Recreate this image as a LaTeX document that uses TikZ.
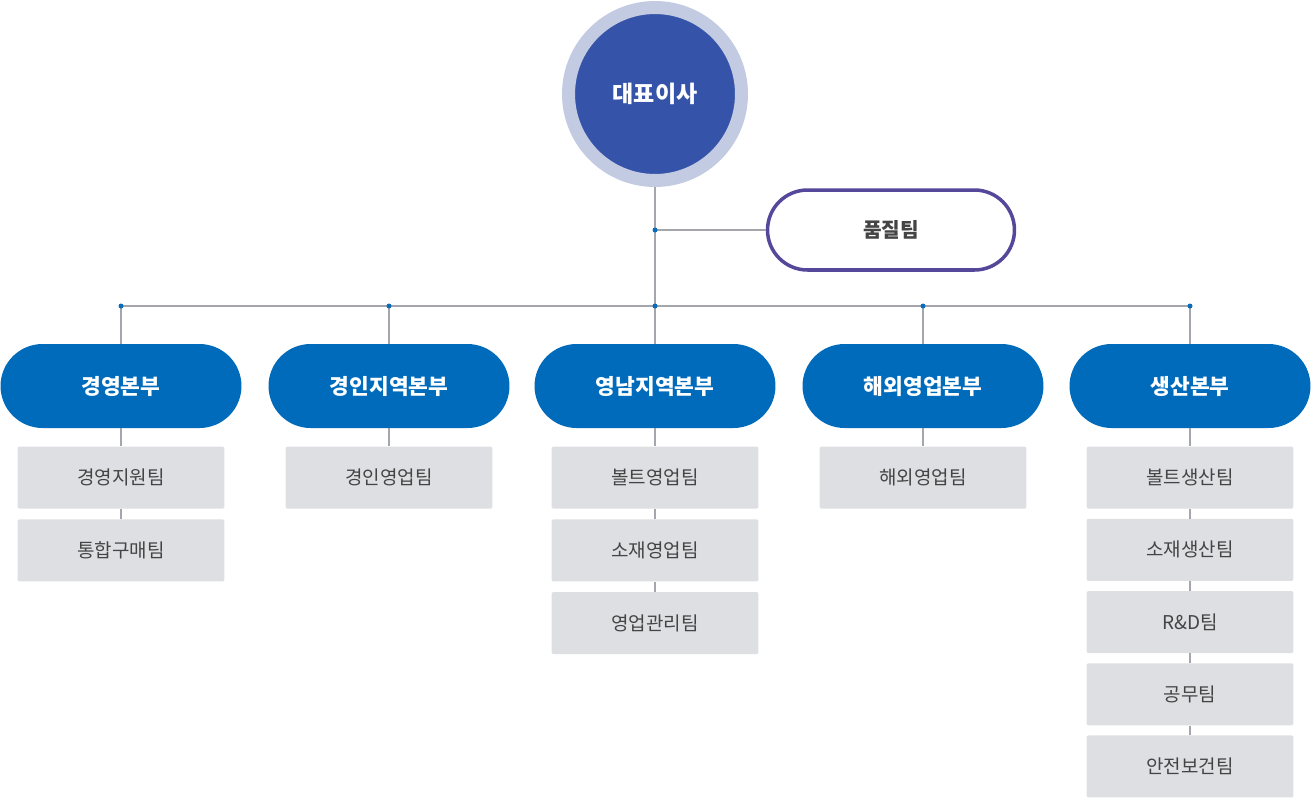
\documentclass[tikz,border=0pt]{standalone}
\usepackage{fontspec}
\setmainfont{Noto Sans CJK KR}
\definecolor{org_ceo}{RGB}{53, 83, 168}
\definecolor{org_ring}{RGB}{195, 203, 227}
\definecolor{org_blue}{RGB}{0, 107, 187}
\definecolor{org_qual}{RGB}{85, 72, 154}
\definecolor{org_team}{RGB}{222, 223, 227}
\definecolor{org_text}{RGB}{68, 68, 68}
\definecolor{org_line}{RGB}{165, 165, 173}
\definecolor{org_dot}{RGB}{10, 108, 189}
\usetikzlibrary{positioning}

\begin{document}
\begin{tikzpicture}[x=0.02cm, y=-0.02cm,
        ceo/.style={circle, fill=org_ceo, draw=org_ring, line width=0.26cm,
                    minimum size=3.46cm, inner sep=0pt, outer sep=0.13cm,
                    text=white, font=\fontsize{13.1}{15}\selectfont\bfseries},
        qual/.style={rectangle, rounded corners=0.8cm, draw=org_qual, fill=white,
                     line width=2pt, minimum width=4.94cm, minimum height=1.6cm,
                     inner sep=0pt, text=org_text,
                     font=\fontsize{11.5}{13}\selectfont\bfseries},
        division/.style={rectangle, rounded corners=0.84cm, fill=org_blue,
                         minimum width=4.82cm, minimum height=1.68cm, inner sep=0pt,
                         text=white, font=\fontsize{12.2}{14}\selectfont\bfseries},
        team/.style={rectangle, rounded corners=0.04cm, fill=org_team,
                     minimum width=4.14cm, minimum height=1.24cm, inner sep=0pt,
                     text=org_text, font=\fontsize{10.8}{12}\selectfont},
        link/.style={draw=org_line, line width=0.6pt},
        joint/.style={circle, fill=org_dot, inner sep=0pt, minimum size=0.1cm},
      ]
        \useasboundingbox (0, 0) rectangle (1312, 809);

        % top of the chart
        \node[ceo] (ceo) at (655, 94) {대표이사};
        \node[qual] (qual) at (891, 230) {품질팀};

        \coordinate (qjoint) at (655, 230);
        \coordinate (bus1) at (121, 306);
        \coordinate (bus2) at (389, 306);
        \coordinate (bus3) at (655, 306);
        \coordinate (bus4) at (923, 306);
        \coordinate (bus5) at (1190, 306);

        % divisions
        \node[division] (div1) at (121, 386) {경영본부};
        \node[division] (div2) at (389, 386) {경인지역본부};
        \node[division] (div3) at (655, 386) {영남지역본부};
        \node[division] (div4) at (923, 386) {해외영업본부};
        \node[division] (div5) at (1190, 386) {생산본부};

        % teams
        \node[team, below=0.36cm of div1] (t11) {경영지원팀};
        \node[team, below=0.2cm of t11] (t12) {통합구매팀};

        \node[team, below=0.36cm of div2] (t21) {경인영업팀};

        \node[team, below=0.36cm of div3] (t31) {볼트영업팀};
        \node[team, below=0.2cm of t31] (t32) {소재영업팀};
        \node[team, below=0.2cm of t32] (t33) {영업관리팀};

        \node[team, below=0.36cm of div4] (t41) {해외영업팀};

        \node[team, below=0.36cm of div5] (t51) {볼트생산팀};
        \node[team, below=0.19cm of t51] (t52) {소재생산팀};
        \node[team, below=0.19cm of t52] (t53) {R\&D팀};
        \node[team, below=0.19cm of t53] (t54) {공무팀};
        \node[team, below=0.19cm of t54] (t55) {안전보건팀};

        % connectors
        \draw[link] (ceo.south) -- (bus3);
        \draw[link] (qjoint) -- (qual.west);
        \draw[link] (bus1) -- (bus5);
        \foreach \i in {1,...,5}
          \draw[link] (bus\i) -- (div\i.north);

        \draw[link] (div1.south) -- (t11.north);
        \draw[link] (t11.south) -- (t12.north);
        \draw[link] (div2.south) -- (t21.north);
        \draw[link] (div3.south) -- (t31.north);
        \draw[link] (t31.south) -- (t32.north);
        \draw[link] (t32.south) -- (t33.north);
        \draw[link] (div4.south) -- (t41.north);
        \draw[link] (div5.south) -- (t51.north);
        \draw[link] (t51.south) -- (t52.north);
        \draw[link] (t52.south) -- (t53.north);
        \draw[link] (t53.south) -- (t54.north);
        \draw[link] (t54.south) -- (t55.north);

        % joints on the lines
        \node[joint] (jq) at (qjoint) {};
        \foreach \i in {1,...,5}
          \node[joint] (j\i) at (bus\i) {};
      \end{tikzpicture}
\end{document}
